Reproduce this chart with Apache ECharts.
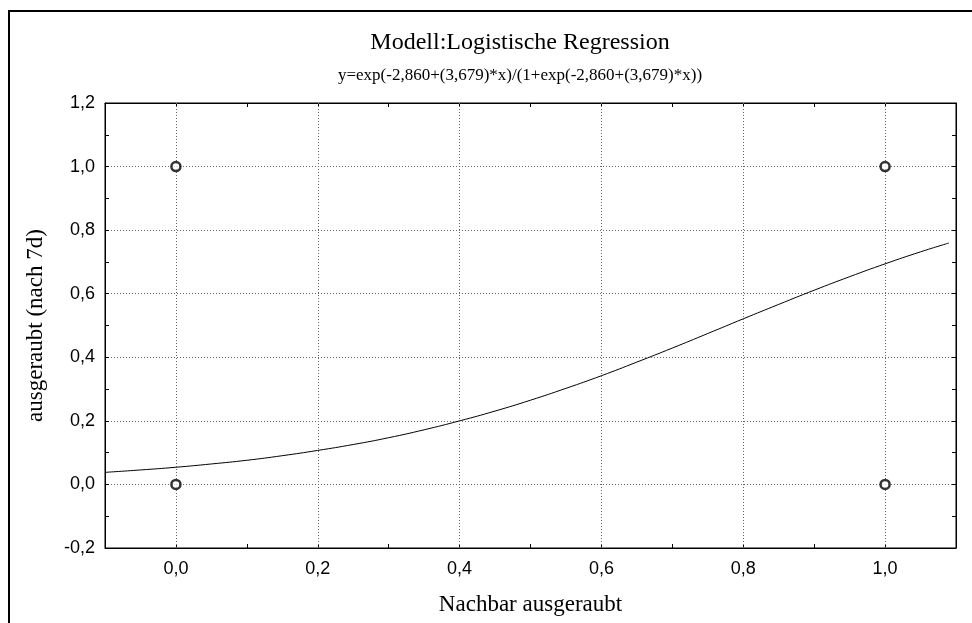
<!DOCTYPE html>
<html>
<head>
<meta charset="utf-8">
<script src="https://cdn.jsdelivr.net/npm/echarts@6/dist/echarts.min.js"></script>
<style>
  html, body { margin: 0; padding: 0; background: #fff; }
  #chart { width: 972px; height: 623px; }
</style>
</head>
<body>
<div id="chart"></div>
<script>
// Observed cases (0 = no, 1 = yes)
const obsX = [0, 0, 1, 1];
const obsY = [0, 1, 0, 1];

// Fitted logistic curve, sampled along x
const curveX = [-0.10, -0.05, 0.00, 0.05, 0.10, 0.15, 0.20, 0.25, 0.30, 0.35, 0.40, 0.45,
                0.50, 0.55, 0.60, 0.65, 0.70, 0.75, 0.80, 0.85, 0.90, 0.95, 1.00, 1.05, 1.09];
const curveY = [0.038, 0.0455, 0.054, 0.0644, 0.076, 0.0904, 0.107, 0.1256, 0.147, 0.1719, 0.200, 0.2308,
                0.265, 0.3023, 0.342, 0.3849, 0.429, 0.4748, 0.521, 0.5664, 0.611, 0.6536, 0.694, 0.7317, 0.7595];

// Vertical grid line positions
const gridX = [0.0, 0.2, 0.4, 0.6, 0.8, 1.0];

const titleText = 'Modell:Logistische Regression';
const subtitleText = 'y=exp(-2,860+(3,679)*x)/(1+exp(-2,860+(3,679)*x))';
const xName = 'Nachbar ausgeraubt';
const yName = 'ausgeraubt (nach 7d)';

const serif = '"Liberation Serif", "DejaVu Serif", serif';
const sans = '"Liberation Sans", Arial, sans-serif';

// Only even tenths get a label, written with a decimal comma
function tenthLabel(v) {
  const k = Math.round(v * 10);
  if (k % 2 !== 0) return '';
  return (k / 10).toFixed(1).replace('.', ',');
}

const dotted = { type: [1, 2], color: '#666', width: 1 };
const tickStyle = { color: '#000', width: 1 };

const chart = echarts.init(document.getElementById('chart'), null, { renderer: 'canvas' });
chart.setOption({
  animation: false,
  backgroundColor: '#fff',
  graphic: [{
    type: 'rect',
    shape: { x: 9, y: 11, width: 1000, height: 700 },
    style: { fill: null, stroke: '#000', lineWidth: 2 },
    silent: true
  }],
  title: [
    { text: titleText, left: 515, top: 26, textAlign: 'center',
      textStyle: { fontFamily: serif, fontSize: 24, fontWeight: 'normal', color: '#000' } },
    { text: subtitleText, left: 515, top: 62, textAlign: 'center',
      textStyle: { fontFamily: serif, fontSize: 17, fontWeight: 'normal', color: '#000' } }
  ],
  grid: { left: 105, top: 103, right: 16, bottom: 75, show: true, borderColor: '#000', borderWidth: 1 },
  xAxis: [
    {
      type: 'value', min: -0.1, max: 1.1, interval: 0.1, position: 'bottom',
      name: xName, nameLocation: 'middle', nameGap: 45,
      nameTextStyle: { fontFamily: serif, fontSize: 23, color: '#000' },
      axisLine: { show: true, onZero: false, lineStyle: { color: '#000' } },
      axisTick: { inside: true, length: 4, lineStyle: tickStyle },
      axisLabel: { formatter: tenthLabel, fontFamily: sans, fontSize: 18, color: '#000', margin: 12 },
      splitLine: { show: false }
    },
    {
      type: 'value', min: -0.1, max: 1.1, interval: 0.1, position: 'top',
      axisLine: { show: true, onZero: false, lineStyle: { color: '#000' } },
      axisTick: { inside: true, length: 4, lineStyle: tickStyle },
      axisLabel: { show: false },
      splitLine: { show: false }
    }
  ],
  yAxis: [
    {
      type: 'value', min: -0.2, max: 1.2, interval: 0.2, position: 'left',
      name: yName, nameLocation: 'middle', nameGap: 58,
      nameTextStyle: { fontFamily: serif, fontSize: 23, color: '#000' },
      axisLine: { show: true, onZero: false, lineStyle: { color: '#000' } },
      axisTick: { inside: true, length: 4, lineStyle: tickStyle },
      minorTick: { show: true, splitNumber: 2, length: 4, lineStyle: tickStyle },
      axisLabel: { formatter: tenthLabel, fontFamily: sans, fontSize: 18, color: '#000', margin: 10 },
      splitLine: { show: true, lineStyle: dotted }
    },
    {
      type: 'value', min: -0.2, max: 1.2, interval: 0.2, position: 'right',
      axisLine: { show: true, onZero: false, lineStyle: { color: '#000' } },
      axisTick: { inside: true, length: 4, lineStyle: tickStyle },
      minorTick: { show: true, splitNumber: 2, length: 4, lineStyle: tickStyle },
      axisLabel: { show: false },
      splitLine: { show: false }
    }
  ],
  series: [
    {
      type: 'line',
      xAxisIndex: 0, yAxisIndex: 0,
      data: curveX.map((x, i) => [x, curveY[i]]),
      smooth: true,
      showSymbol: false,
      lineStyle: { color: '#000', width: 1 },
      silent: true,
      z: 3,
      markLine: {
        silent: true,
        symbol: 'none',
        label: { show: false },
        lineStyle: dotted,
        data: gridX.map(v => ({ xAxis: v }))
      }
    },
    {
      type: 'scatter',
      xAxisIndex: 0, yAxisIndex: 0,
      data: obsX.map((x, i) => [x, obsY[i]]),
      symbol: 'circle',
      symbolSize: 9,
      itemStyle: { color: '#fff', borderColor: '#000', borderWidth: 2.5 },
      z: 5
    }
  ]
});
</script>
</body>
</html>
